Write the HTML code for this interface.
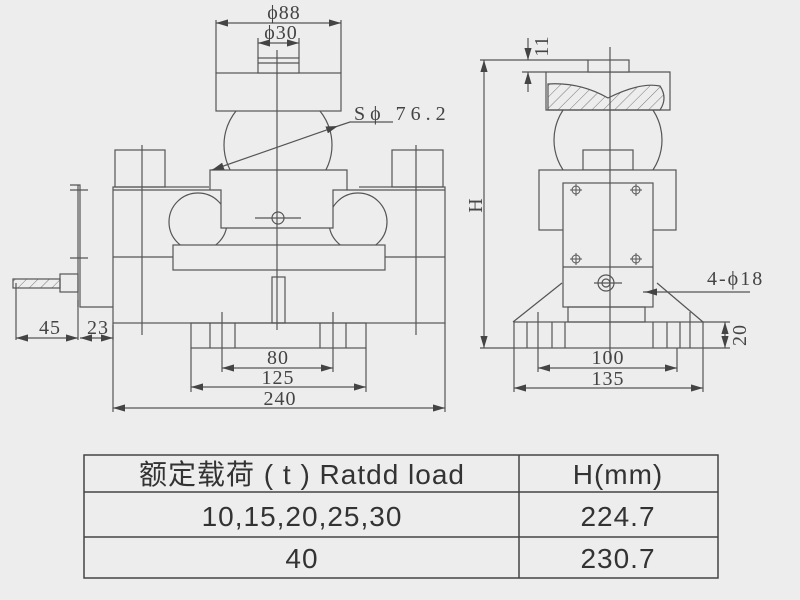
<!DOCTYPE html>
<html><head><meta charset="utf-8"><style>
html,body{margin:0;padding:0;background:#ededed;}
svg{display:block}
text{font-family:"Liberation Serif",serif;fill:#444}
.t{font-family:"Liberation Sans","Noto Sans CJK SC",sans-serif;fill:#333;font-size:28px;letter-spacing:1px}
</style></head><body>
<svg width="800" height="600" viewBox="0 0 800 600" xmlns="http://www.w3.org/2000/svg">
<defs>
<marker id="a" viewBox="0 0 10 6" refX="10" refY="3" markerWidth="10" markerHeight="6" orient="auto-start-reverse"><path d="M0,0L10,3L0,6z" fill="#444"/></marker>
<pattern id="h" width="8" height="8" patternUnits="userSpaceOnUse" patternTransform="rotate(45)"><line x1="0" y1="0" x2="0" y2="8" stroke="#777" stroke-width="1"/></pattern>
</defs>
<rect width="800" height="600" fill="#ededed"/>
<g fill="none" stroke="#555" stroke-width="1.2">
<!-- LEFT VIEW -->
<circle cx="278" cy="145" r="54" fill="#ededed"/>
<rect x="216" y="73" width="125" height="38" fill="#ededed"/>
<rect x="258" y="58" width="41" height="15" fill="#ededed"/><line x1="258" y1="63" x2="299" y2="63"/>
<rect x="113" y="187" width="332" height="136" fill="none"/>
<rect x="173" y="190" width="212" height="55" fill="#ededed" stroke="none"/>
<circle cx="198" cy="222" r="29" fill="none"/><circle cx="358" cy="222" r="29" fill="none"/>
<rect x="209" y="172" width="150" height="20" fill="#ededed" stroke="none"/>
<path d="M210,190V170H347V190H333V228H221V190H210" fill="#ededed"/>
<path d="M113,190H210M347,190H445" />
<rect x="173" y="245" width="212" height="25" fill="#ededed"/>
<path d="M113,257H173M385,257H445"/>
<rect x="272" y="277" width="13" height="46"/>
<rect x="115" y="150" width="50" height="37"/><rect x="392" y="150" width="51" height="37"/>
<rect x="191" y="323" width="175" height="25"/>
<path d="M210,323V348M235,323V348M320,323V348M346,323V348"/>
<path d="M142,145V335M416,145V335M277,50V330"/>
<circle cx="278" cy="218" r="6"/><path d="M255,218H301"/>
<!-- connector box -->
<path d="M113,307H80V185H70M78,185V307" />
<path d="M70,190H88M70,258H88"/>
<rect x="60" y="274" width="18" height="18"/>
<rect x="13" y="279" width="47" height="9" fill="url(#h)"/>
<path d="M16,283V340M78,300V340M113,325V340"/>
<!-- dims left -->
<path d="M216,20V73M341,20V73M258,38V58M299,38V58"/>
<line x1="216" y1="23" x2="341" y2="23" marker-start="url(#a)" marker-end="url(#a)"/>
<line x1="258" y1="43" x2="299" y2="43" marker-start="url(#a)" marker-end="url(#a)"/>
<line x1="338" y1="126" x2="212" y2="170" marker-start="url(#a)" marker-end="url(#a)"/>
<path d="M338,126 L350,122H393"/>
<path d="M222,312V372M333,312V372M191,348V392M366,348V392M113,323V412M445,323V412"/>
<line x1="222" y1="368" x2="333" y2="368" marker-start="url(#a)" marker-end="url(#a)"/>
<line x1="191" y1="387" x2="366" y2="387" marker-start="url(#a)" marker-end="url(#a)"/>
<line x1="113" y1="408" x2="445" y2="408" marker-start="url(#a)" marker-end="url(#a)"/>
<line x1="16" y1="338" x2="78" y2="338" marker-start="url(#a)" marker-end="url(#a)"/>
<line x1="80" y1="338" x2="113" y2="338" marker-start="url(#a)" marker-end="url(#a)"/>
<!-- RIGHT VIEW -->
<circle cx="608" cy="140" r="54" fill="#ededed"/>
<path d="M546,72H670V110H546Z" fill="#ededed"/>
<path d="M548,84 Q580,82 608,98 Q640,82 660,86 Q668,98 660,110 H548Z" fill="url(#h)"/>
<rect x="588" y="60" width="41" height="12" fill="#ededed"/>
<rect x="583" y="150" width="50" height="20" fill="#ededed"/>
<rect x="539" y="170" width="137" height="60" fill="#ededed"/>
<rect x="563" y="183" width="90" height="124" fill="#ededed"/>
<path d="M563,267H653"/>
<rect x="568" y="307" width="77" height="15"/>
<path d="M513,322L562,283M657,283L703,322"/>
<rect x="514" y="322" width="189" height="26"/>
<path d="M527,322V348M538,312V348M552,322V348M565,322V348M653,322V348M667,322V348M680,322V348M690,312V348"/>
<g stroke-width="1"><circle cx="576" cy="190" r="4"/><circle cx="636" cy="190" r="4"/><circle cx="576" cy="259" r="4"/><circle cx="636" cy="259" r="4"/>
<path d="M570,190H582M576,184V196M630,190H642M636,184V196M570,259H582M576,253V265M630,259H642M636,253V265"/></g>
<circle cx="606" cy="283" r="8"/><circle cx="606" cy="283" r="4"/><path d="M594,283H622"/>
<path d="M610,47V360"/>
<!-- dims right -->
<path d="M480,60H588M522,72H546M480,348H514M703,322H730M703,348H730"/>
<line x1="484" y1="60" x2="484" y2="348" marker-start="url(#a)" marker-end="url(#a)"/>
<line x1="528" y1="38" x2="528" y2="60" marker-end="url(#a)"/>
<line x1="528" y1="92" x2="528" y2="72" marker-end="url(#a)"/>
<line x1="725" y1="322" x2="725" y2="348" marker-start="url(#a)" marker-end="url(#a)"/>
<path d="M643,292H750"/>
<line x1="655" y1="292" x2="645" y2="292" marker-end="url(#a)"/>
<path d="M538,348V372M677,348V372M514,348V392M703,348V392"/>
<line x1="538" y1="368" x2="677" y2="368" marker-start="url(#a)" marker-end="url(#a)"/>
<line x1="514" y1="388" x2="703" y2="388" marker-start="url(#a)" marker-end="url(#a)"/>
</g>
<g font-size="20" letter-spacing="1">
<text x="284" y="19" text-anchor="middle">ϕ88</text>
<text x="281" y="39" text-anchor="middle">ϕ30</text>
<text x="354" y="120" letter-spacing="5">Sϕ 76.2</text>
<text x="278" y="364" text-anchor="middle">80</text>
<text x="278" y="384" text-anchor="middle">125</text>
<text x="280" y="405" text-anchor="middle">240</text>
<text x="50" y="334" text-anchor="middle">45</text>
<text x="98" y="334" text-anchor="middle">23</text>
<text x="608" y="364" text-anchor="middle">100</text>
<text x="608" y="385" text-anchor="middle">135</text>
<text x="707" y="285" letter-spacing="2">4-ϕ18</text>
<text transform="translate(482,205) rotate(-90)" text-anchor="middle">H</text>
<text transform="translate(548,46) rotate(-90)" text-anchor="middle">11</text>
<text transform="translate(746,335) rotate(-90)" text-anchor="middle">20</text>
</g>
<!-- TABLE -->
<g stroke="#444" stroke-width="1.5" fill="none">
<rect x="84" y="455" width="634" height="123"/>
<path d="M84,492H718M84,537H718M519,455V578"/>
</g>
<text class="t" x="302" y="484" text-anchor="middle">额定载荷 ( t ) Ratdd load</text>
<text class="t" x="618" y="484" text-anchor="middle">H(mm)</text>
<text class="t" x="302" y="526" text-anchor="middle" letter-spacing="2">10,15,20,25,30</text>
<text class="t" x="618" y="526" text-anchor="middle">224.7</text>
<text class="t" x="302" y="568" text-anchor="middle">40</text>
<text class="t" x="618" y="568" text-anchor="middle">230.7</text>
</svg>
</body></html>
